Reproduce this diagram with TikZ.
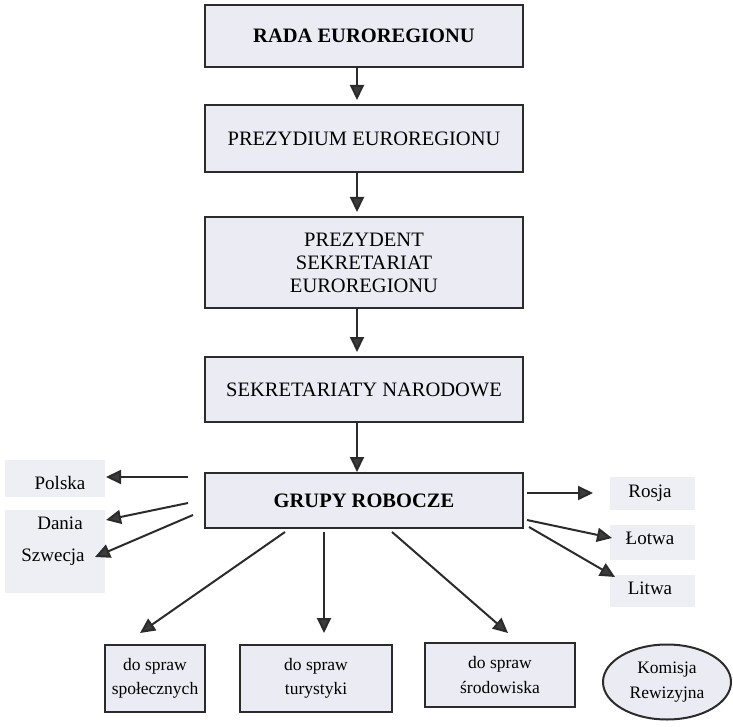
\documentclass[tikz,border=0pt]{standalone}
\usepackage{fontspec}
\setmainfont{Liberation Serif}
\usetikzlibrary{arrows.meta}
\usetikzlibrary{shapes.geometric}

\definecolor{boxgray}{HTML}{EBECF3}
\definecolor{scangray}{HTML}{EEEFF4}
\definecolor{inkgray}{HTML}{2B2B2B}
\definecolor{tipgray}{HTML}{3C3C3C}

\tikzset{
    organ/.style = {draw = inkgray, line width = 2pt, fill = boxgray,
                    minimum width = 318pt, align = center,
                    font = \fontsize{20.5}{23}\selectfont},
    bold/.style  = {font = \fontsize{20.5}{23}\selectfont\bfseries},
    group/.style = {draw = inkgray, line width = 2pt, fill = boxgray,
                    align = center, inner sep = 1pt,
                    font = \fontsize{17.5}{24.5}\selectfont},
    land/.style  = {font = \fontsize{19}{24}\selectfont},
    link/.style  = {draw = inkgray, line width = 2pt,
                    arrows = -{Triangle[length = 15pt, width = 14pt, fill = tipgray]}},
}

\begin{document}
\begin{tikzpicture}[x = 1pt, y = -1pt]
        %   \draw [help lines, step = 50] (0,0) grid (733,727);
        \useasboundingbox (0,0) rectangle (733,727);

        % plamy spod etykiet
        \fill [scangray] (5,460) rectangle (105,497);
        \fill [scangray] (5,510) rectangle (105,593);
        \fill [scangray] (610,477) rectangle (695,510);
        \fill [scangray] (610,525) rectangle (695,560);
        \fill [scangray] (610,575) rectangle (695,607);

        \node [organ, bold, minimum height = 62pt] (rada)  at (364,36)    {RADA EUROREGIONU};
        \node [organ, minimum height = 67pt]       (prez)  at (364,138.5) {PREZYDIUM EUROREGIONU};
        \node [organ, minimum height = 91pt]       (sekr)  at (364,262.5) {PREZYDENT\\SEKRETARIAT\\EUROREGIONU};
        \node [organ, minimum height = 65pt]       (narod) at (364,389.5) {SEKRETARIATY NARODOWE};
        \node [organ, bold, minimum height = 55pt] (grupy) at (364,500.5) {GRUPY ROBOCZE};

        \node [group, minimum width = 100pt, minimum height = 67pt] (spol) at (155,678.5) {do spraw\\społecznych};
        \node [group, minimum width = 152pt, minimum height = 67pt] (tur)  at (316,678.5) {do spraw\\turystyki};
        \node [group, minimum width = 150pt, minimum height = 64pt] (srod) at (500,675)   {do spraw\\środowiska};
        \node [group, ellipse, minimum width = 128pt, minimum height = 75pt] (kom) at (667,682) {Komisja\\Rewizyjna};

        \node [land] (pl) at (60,483) {Polska};
        \node [land] (dk) at (60,523) {Dania};
        \node [land] (se) at (53,557) {Szwecja};
        \node [land] (ru) at (650,493) {Rosja};
        \node [land] (lv) at (650,538) {Łotwa};
        \node [land] (lt) at (650,588) {Litwa};

        \coordinate (spine) at (357,0);
        \coordinate (pl-tip) at (106,477);
        \coordinate (dk-tip) at (106,520);
        \coordinate (se-tip) at (95,557);
        \coordinate (ru-tip) at (593,493);
        \coordinate (lv-tip) at (612,538);
        \coordinate (lt-tip) at (615,577);
        \coordinate (spol-tip) at (140,633);
        \coordinate (tur-tip)  at (324,633);
        \coordinate (srod-tip) at (508,633);

        \draw [link, shorten >= 4pt] (rada.south -| spine)  -- (prez.north -| spine);
        \draw [link, shorten >= 4pt] (prez.south -| spine)  -- (sekr.north -| spine);
        \draw [link, shorten >= 4pt] (sekr.south -| spine)  -- (narod.north -| spine);
        \draw [link]                 (narod.south -| spine) -- (grupy.north -| spine);

        \draw [link] ([shift = {(-16,-23.5)}]grupy.west) -- (pl-tip);
        \draw [link] ([shift = {(-16,2.5)}]grupy.west)   -- (dk-tip);
        \draw [link] ([shift = {(-11,14.5)}]grupy.west)  -- (se-tip);

        \draw [link] ([shift = {(3,-7.5)}]grupy.east) -- (ru-tip);
        \draw [link] ([shift = {(3,19.5)}]grupy.east) -- (lv-tip);
        \draw [link] ([shift = {(5,26.5)}]grupy.east) -- (lt-tip);

        \draw [link] ([shift = {(-79,3)}]grupy.south) -- (spol-tip);
        \draw [link] ([shift = {(-40,3)}]grupy.south) -- (tur-tip);
        \draw [link] ([shift = {(28,3)}]grupy.south)  -- (srod-tip);
\end{tikzpicture}
\end{document}
